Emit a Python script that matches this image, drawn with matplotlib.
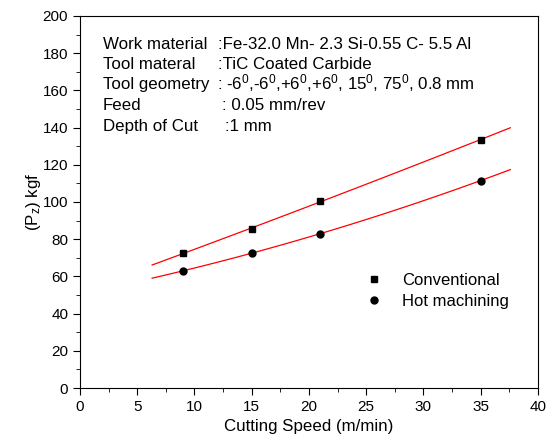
import numpy as np
import matplotlib
matplotlib.use('Agg')
import matplotlib.pyplot as plt
from matplotlib.ticker import MultipleLocator

plt.rcParams['font.family'] = ['Liberation Sans', 'DejaVu Sans']
plt.rcParams['mathtext.fontset'] = 'custom'
plt.rcParams['mathtext.rm'] = 'Liberation Sans'
plt.rcParams['mathtext.it'] = 'Liberation Sans'

speed = [9, 15, 21, 35]
conventional = [72.5, 85.5, 100.5, 133.5]
hot = [63, 72.5, 83, 111.5]

info_names = ['Work material', 'Tool materal', 'Tool geometry', 'Feed', 'Depth of Cut']
info_values = [':Fe-32.0 Mn- 2.3 Si-0.55 C- 5.5 Al',
               ':TiC Coated Carbide',
               ': -6$^0$,-6$^0$,+6$^0$,+6$^0$, 15$^0$, 75$^0$, 0.8 mm',
               ': 0.05 mm/rev',
               ':1 mm']

fig = plt.figure(figsize=(5.46, 4.42), dpi=100)
ax = fig.add_axes([0.1465, 0.122, 0.8385, 0.842])

# fitted trend lines
xfit = np.linspace(6.3, 37.6, 100)
for y in [conventional, hot]:
    p = np.polyfit(speed, y, 2)
    ax.plot(xfit, np.polyval(p, xfit), color='red', lw=0.9)

ax.plot(speed, conventional, 's', color='black', ms=4.5, label='Conventional')
ax.plot(speed, hot, 'o', color='black', ms=5, label='Hot machining')

ax.set_xlim(0, 40)
ax.set_ylim(0, 200)
ax.xaxis.set_major_locator(MultipleLocator(5))
ax.xaxis.set_minor_locator(MultipleLocator(2.5))
ax.yaxis.set_major_locator(MultipleLocator(20))
ax.yaxis.set_minor_locator(MultipleLocator(10))
ax.tick_params(which='both', direction='out', labelsize=11, top=False, right=False)
ax.tick_params(which='major', length=5)
ax.tick_params(which='minor', length=3)
ax.set_xlabel('Cutting Speed (m/min)', fontsize=12.2)
ax.set_ylabel('(P$_z$) kgf', fontsize=12.2, labelpad=0)

name_x = 2.0
val_x = [12.05, 12.05, 12.0, 12.4, 12.65]
ys = [182.2, 171.4, 160.7, 149.2, 138.0]
for n, v, vx, yy in zip(info_names, info_values, val_x, ys):
    ax.text(name_x, yy, n, fontsize=12.2, va='baseline')
    ax.text(vx, yy, v, fontsize=12.2, va='baseline')

ax.legend(loc='center left', bbox_to_anchor=(0.592, 0.261), frameon=False,
          fontsize=12, handlelength=1.0, handletextpad=1.18, labelspacing=0.35)

fig.savefig('out.png', dpi=100)
